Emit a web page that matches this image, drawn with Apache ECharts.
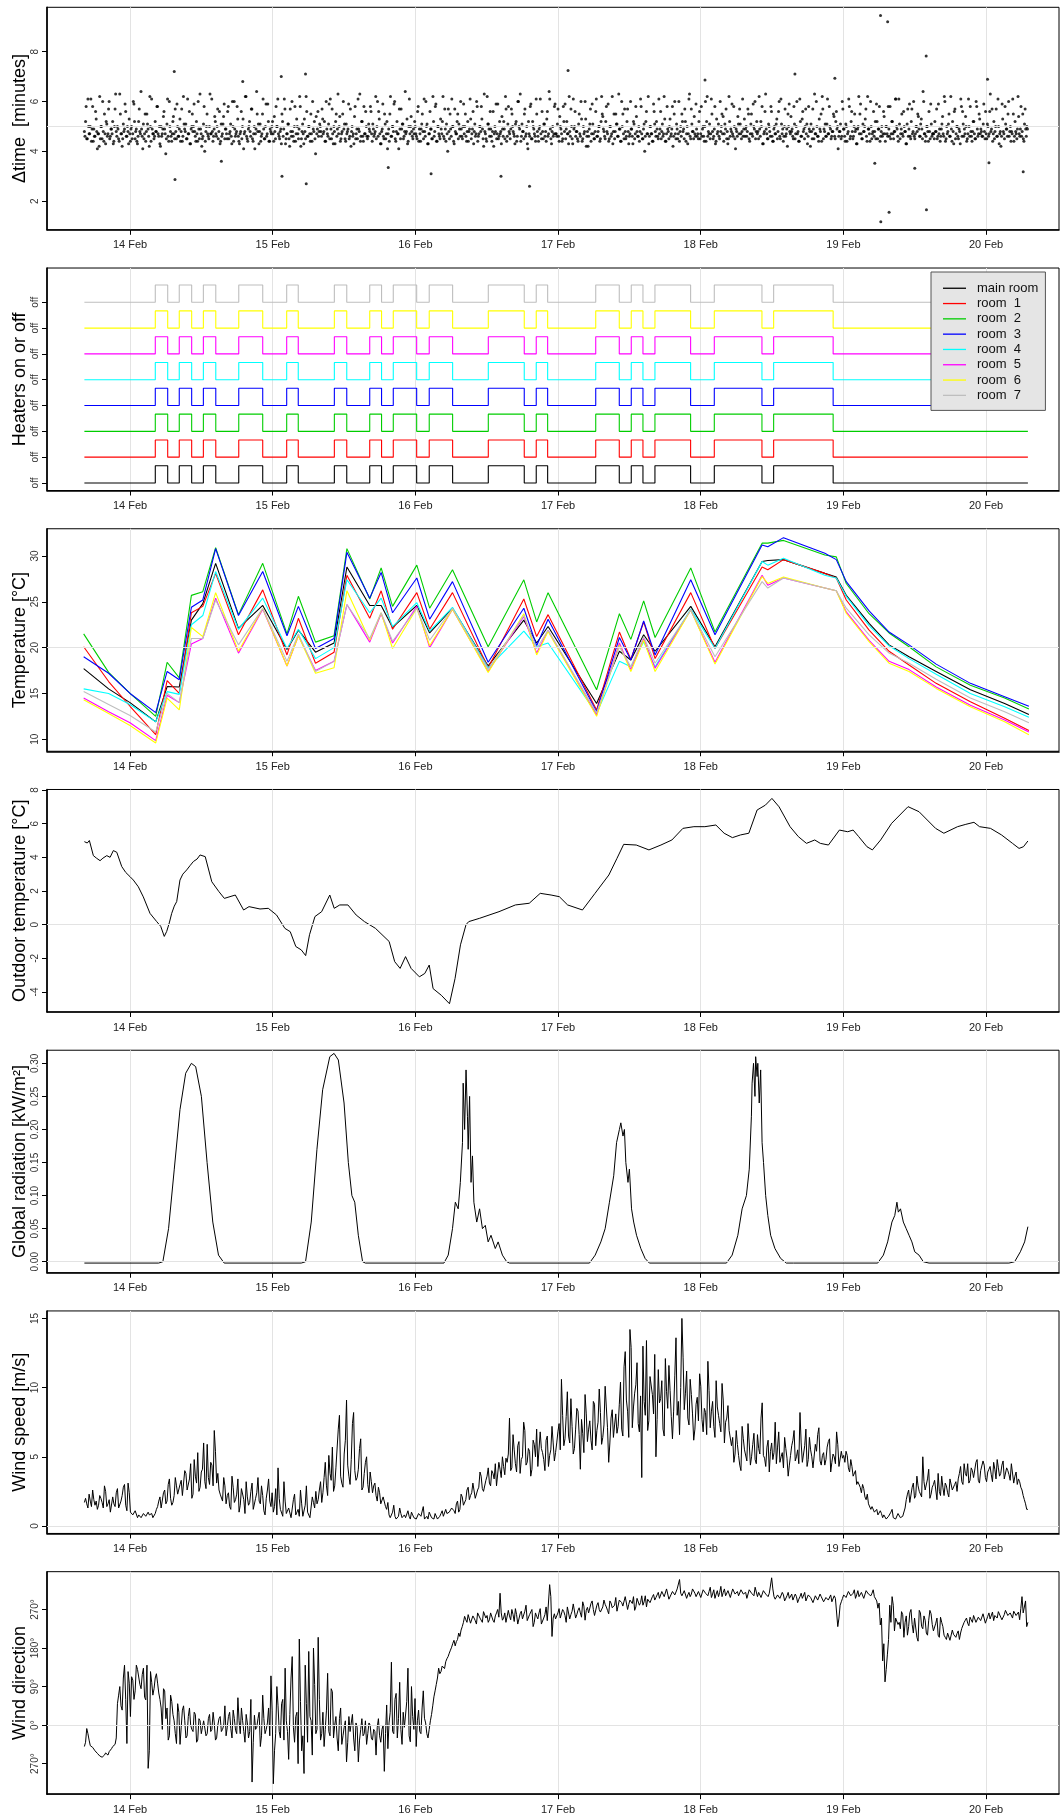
<!DOCTYPE html>
<html><head><meta charset="utf-8">
<script src="https://cdn.jsdelivr.net/npm/echarts@6/dist/echarts.min.js"></script>
<style>html,body{margin:0;padding:0;background:#fff}#c{width:1061px;height:1814px}</style>
</head><body><div id="c"></div>
<script>
// ---------------- DATA (time in days of February) ----------------
const dayTicks = [14, 15, 16, 17, 18, 19, 20];
const dayLabels = ['14 Feb', '15 Feb', '16 Feb', '17 Feb', '18 Feb', '19 Feb', '20 Feb'];
const roomNames = ['main room', 'room  1', 'room  2', 'room  3', 'room  4', 'room  5', 'room  6', 'room  7'];
const roomColors = ['#000000', '#ff0000', '#00cd00', '#0000ff', '#00ffff', '#ff00ff', '#ffff00', '#bebebe'];

// Panel 1: sampling interval (tenths of minutes); two interleaved passes of regular samples
const dtStart = 13.68, dtEnd = 20.29;
const dtCodesA = `
48 52 45 61 47 50 44 58 49 46 53 41 47 62 50 45 48 55 43 51 47 60 46 49 52 44 57 48 50 45 63 47 42 51 49 56 46 48 53 44
50 47 59 45 49 43 52 48 64 46 51 47 44 55 49 42 50 61 47 45 52 48 58 46 43 50 47 54 49 39 51 46 60 48 44 52 47 57 45 50
46 53 48 44 62 49 51 45 47 56 43 50 48 59 46 52 44 49 63 47 45 51 40 48 55 46 50 47 61 44 49 52 46 57 48 43 51 47 54 45
49 45 58 47 51 43 50 60 46 48 53 44 47 56 50 41 48 62 45 49 52 46 57 44 50 47 64 48 43 51 46 55 49 45 59 47 52 44 48 50
47 54 45 50 61 46 48 43 52 49 57 45 47 51 42 48 60 46 50 44 53 47 49 58 45 51 43 48 62 46 50 47 55 44 49 52 39 47 56 48
50 46 53 48 44 60 47 51 45 49 57 43 48 52 46 63 50 44 47 55 49 45 51 48 59 46 42 50 47 54 45 49 61 48 44 52 46 58 47 50
45 51 48 56 44 49 47 62 50 46 53 43 48 59 45 51 47 41 49 55 46 50 48 60 44 52 47 57 45 49 51 46 64 48 43 50 47 54 46 49
52 47 45 58 49 44 51 48 61 46 50 43 47 56 49 45 52 48 59 44 50 46 53 47 62 45 49 51 40 48 55 46 50 44 57 47 52 45 49 60
46 50 47 55 44 52 48 61 45 49 43 51 47 58 46 50 48 53 45 63 47 44 51 49 56 46 48 42 50 59 47 45 52 48 54 46 49 62 44 51
48 45 57 50 47 43 52 46 60 49 44 51 48 55 46 50 41 47 58 45 52 49 46 61 48 44 50 47 56 45 51 48 53 46 64 49 43 50 47 59
47 51 46 54 49 44 58 48 45 52 47 62 46 50 43 49 56 48 45 51 47 60 44 50 48 53 46 42 49 57 47 51 45 48 61 46 50 44 52 55
49 46 52 48 59 45 50 47 43 55 48 51 46 63 49 44 50 47 57 45 52 48 46 60 49 43 51 47 54 46 50 48 58 45 49 40 52 47 62 46
50 47 44 56 48 52 46 61 49 45 51 47 53 44 58 48 50 46 49 42 55 47 51 45 60 48 46 52 49 57 44 50 47 63 45 51 48 54 46 49
47 52 45 58 49 46 50 44 62 48 51 47 55 45 49 43 53 48 46 60 50 47 44 51 57 48 45 52 49 59 46 50 41 48 54 47 51 45 61 49
46 50 48 55 44 51 47 59 49 45 52 48 62 46 50 43 47 56 49 45 51 48 58 46 44 50 47 53 48 60 45 51 49 46 57 47 42 50 48 54
49 45 51 47 60 48 44 52 46 56 49 50 47 43 58 48 51 45 49 63 47 50 46 53 48 44 57 49 51 46 61 47 50 45 48 55 46 52 49 41
48 51 46 57 49 44 50 47 61 45 52 48 46 55 49 43 50 47 59 45 51 48 53 46 62 49 44 50 47 56 48 45 52 49 58 46 50 47 54 44
50 46 49 58 47 52 45 48 61 49 44 51 47 55 46 50 48 43 57 49 46 52 47 60 45 50 48 54 46 51 49 64 47 44 50 48 56 45 51 47
47 52 48 45 59 49 46 51 47 62 44 50 48 55 46 49 52 43 57 47 50 45 48 61 46 51 49 54 44 47 50 58 46 48 52 45 60 49 47 53
49 46 51 48 56 45 50 47 63 49 44 52 48 57 46 50 47 42 59 48 45 51 49 55 46 50 48 61 44 52 47 49 54 46 58 48 45 51 49 50`;
const dtCodesB = `
46 58 45 50 47 61 49 44 46 56 48 47 42 45 50 60 44 47 52 46 57 45 49 47 43 50 63 46 49 44 55 47 45 48 59 46 50 43 47 49
45 60 52 48 44 46 57 47 49 41 45 55 48 51 46 62 44 49 47 46 48 58 47 50 42 46 49 56 47 45 61 44 50 46 47 54 45 48 59 46
49 44 57 46 51 48 45 61 47 43 49 55 50 48 44 47 60 45 49 42 46 58 44 50 47 45 63 47 48 46 54 47 50 45 56 44 46 51 59 49
47 56 45 48 46 60 44 49 47 58 46 43 48 45 53 47 62 46 44 50 48 57 45 47 41 49 55 51 48 44 47 61 45 50 46 59 44 49 47 52
44 48 58 50 47 45 49 55 46 61 43 47 51 45 57 46 48 44 58 47 50 45 62 42 48 47 53 45 56 46 50 44 47 60 48 45 54 49 46 51
48 57 47 52 44 49 46 59 61 45 47 50 43 55 49 47 54 45 48 60 51 44 47 49 45 57 48 46 43 58 47 45 49 63 46 52 44 47 56 46
46 49 58 47 51 46 48 45 60 56 47 43 49 46 55 45 52 47 44 62 46 50 59 45 48 47 41 49 57 51 45 48 47 53 44 61 50 48 45 47
50 46 56 44 47 49 55 45 48 60 51 43 47 49 45 62 46 58 44 50 47 45 49 52 46 57 44 47 57 45 49 61 50 43 48 47 55 51 46 49
45 59 50 46 48 44 49 53 47 56 48 46 60 44 47 50 58 49 42 48 45 62 51 46 49 44 56 47 48 45 59 46 47 43 49 52 45 57 46 58
47 49 55 48 46 51 44 60 50 63 46 48 45 57 47 43 52 46 59 45 50 47 44 55 46 49 61 45 48 51 46 44 56 47 61 45 48 46 58 47
46 57 44 50 47 45 52 59 49 47 43 48 57 45 61 50 46 48 44 55 46 53 45 47 60 42 48 46 51 44 59 47 45 56 46 48 50 45 62 54
48 45 58 47 44 50 46 62 48 45 55 51 46 49 44 60 55 45 48 46 57 43 47 49 46 52 45 58 48 46 44 61 47 45 51 46 56 47 43 50
47 44 59 51 46 49 45 47 56 48 46 62 44 47 49 45 53 47 58 46 60 45 49 47 44 50 55 48 45 52 47 43 61 46 57 48 45 47 59 46
45 56 47 46 50 44 60 52 46 47 45 61 48 46 58 44 47 51 45 48 55 54 47 49 45 43 62 46 48 47 58 45 49 46 51 57 47 48 46 53
49 46 57 45 47 55 46 50 60 48 47 45 49 52 58 43 48 63 47 45 50 46 56 44 49 47 51 45 56 46 61 47 44 50 46 49 55 59 47 48
46 58 45 50 47 44 61 46 53 48 45 57 51 46 49 42 48 57 45 47 60 46 44 49 55 62 45 48 46 51 47 58 49 46 48 54 45 56 50 46
48 45 60 49 46 51 44 48 58 46 56 45 50 48 43 49 62 55 47 45 48 50 57 44 49 47 60 45 48 46 52 59 45 49 44 48 46 56 47 50
47 58 46 45 52 47 48 61 50 46 61 45 49 47 56 48 43 51 46 59 45 57 48 46 47 50 55 49 46 53 45 60 47 46 50 44 48 59 46 47
45 48 57 46 47 44 49 54 46 60 45 47 51 46 62 44 48 56 45 50 46 49 43 58 56 46 47 50 45 61 46 48 44 52 47 45 58 46 55 47
48 46 59 45 47 51 46 56 48 57 47 45 50 46 61 43 48 46 53 47 58 49 46 60 48 44 47 55 46 48 45 62 47 49 46 55 44 57 46 49`;
const dtOutT = [14.31, 14.315, 14.64, 14.79, 15.06, 15.065, 15.23, 15.235, 15.81, 16.11, 16.60, 16.80, 17.07, 18.03, 18.66, 18.94, 19.22, 19.26, 19.262, 19.31, 19.32, 19.50, 19.58, 19.582, 20.01, 20.02, 20.26];
const dtOutV = [7.2, 2.87, 3.6, 6.8, 7.0, 3.0, 7.1, 2.7, 3.35, 3.1, 3.0, 2.6, 7.24, 6.86, 7.1, 6.93, 3.52, 9.45, 1.17, 9.2, 1.55, 3.32, 7.83, 1.65, 6.89, 3.54, 3.18];

// Panel 2: heater switching times (alternating on / off, starting off)
const heaterStart = 13.68, heaterEnd = 20.293;
const heaterSwitch = [14.177, 14.264, 14.345, 14.432, 14.514, 14.601, 14.762, 14.930, 15.098, 15.179, 15.432, 15.519,
  15.680, 15.763, 15.845, 16.009, 16.097, 16.261, 16.511, 16.763, 16.847, 16.927, 17.264, 17.429, 17.513, 17.595,
  17.679, 17.929, 18.095, 18.429, 18.511, 18.928];
const heaterOffsets = [0, 1.5, 3, 4.5, 6, 7.5, 9, 10.5];

// Panel 3: room temperatures
const tempT = [13.675, 13.85, 14.0, 14.18, 14.26, 14.345, 14.43, 14.51, 14.60, 14.76, 14.93, 15.10, 15.18, 15.30, 15.43, 15.52,
  15.68, 15.76, 15.84, 16.01, 16.10, 16.26, 16.51, 16.76, 16.85, 16.93, 17.27, 17.43, 17.51, 17.60, 17.68, 17.93, 18.10,
  18.43, 18.47, 18.58, 18.87, 18.95, 19.02, 19.18, 19.32, 19.46, 19.65, 19.89, 20.13, 20.30];
const tempMain = [17.7, 15.5, 14.0, 11.9, 15.75, 15.7, 23.0, 24.8, 29.2, 22.1, 24.6, 19.8, 21.9, 19.5, 20.5, 28.8, 24.6, 24.6, 22.2, 24.6, 21.6, 24.3, 18.0, 23.0, 20.5, 22.3, 13.9, 19.6, 18.65, 21.4, 19.6, 24.5, 20.1, 29.4, 29.5, 29.6, 28.1, 27.7, 25.7, 22.65, 20.3, 19.0, 17.4, 15.4, 13.9, 12.7];
const tempRoom1 = [20.1, 16.3, 13.6, 10.5, 16.4, 15.0, 23.8, 24.5, 28.1, 21.4, 26.3, 19.2, 23.2, 18.3, 19.5, 27.9, 23.2, 26.2, 22.0, 26.0, 22.0, 26.0, 17.8, 25.3, 21.2, 23.6, 13.2, 21.7, 18.7, 22.8, 18.8, 26.0, 19.9, 28.8, 28.5, 29.6, 28.1, 27.6, 25.2, 21.9, 19.6, 18.1, 16.1, 14.1, 12.3, 10.95];
const tempRoom2 = [21.5, 17.3, 15.0, 12.5, 18.4, 16.7, 25.7, 26.1, 30.9, 23.6, 29.2, 21.5, 25.6, 20.6, 21.3, 30.8, 25.3, 28.7, 24.5, 29.0, 24.3, 28.5, 20.1, 27.4, 22.8, 26.0, 15.4, 23.7, 20.9, 25.1, 21.1, 28.7, 21.7, 31.4, 31.4, 31.7, 30.1, 29.9, 27.0, 23.7, 21.6, 20.1, 17.9, 15.9, 14.5, 13.3];
const tempRoom3 = [19.0, 17.2, 15.0, 12.9, 17.4, 16.5, 24.4, 25.2, 30.8, 23.5, 28.3, 21.3, 24.5, 19.9, 21.0, 30.4, 25.4, 28.2, 23.8, 27.6, 23.1, 27.2, 18.4, 24.3, 20.2, 23.1, 13.0, 21.1, 18.65, 22.9, 19.2, 27.4, 21.4, 31.2, 31.0, 32.0, 30.3, 29.6, 27.2, 24.0, 21.7, 20.3, 18.2, 16.1, 14.65, 13.6];
const tempRoom4 = [15.5, 15.0, 13.8, 11.9, 15.2, 14.9, 22.5, 23.5, 28.3, 22.0, 25.4, 19.9, 22.0, 18.8, 20.0, 27.4, 23.8, 25.4, 22.3, 24.9, 21.8, 24.4, 17.8, 21.8, 20.1, 20.5, 12.8, 18.5, 17.9, 20.65, 17.9, 24.2, 19.9, 29.4, 29.0, 29.75, 27.9, 27.6, 25.6, 22.4, 20.2, 18.8, 17.1, 15.0, 13.55, 12.4];
const tempRoom5 = [14.5, 13.0, 11.8, 9.85, 14.8, 14.0, 20.4, 21.0, 25.4, 19.4, 24.2, 18.0, 21.3, 17.5, 18.5, 24.7, 20.6, 23.7, 20.5, 24.5, 20.0, 24.2, 17.4, 23.4, 19.4, 21.9, 12.65, 20.5, 17.6, 21.0, 17.75, 24.1, 18.4, 27.9, 26.8, 27.6, 26.5, 26.2, 23.9, 20.8, 18.5, 17.6, 15.7, 13.7, 12.1, 10.8];
const tempRoom6 = [14.3, 12.8, 11.5, 9.6, 14.5, 13.2, 22.2, 21.2, 26.0, 19.6, 24.3, 18.0, 21.3, 17.2, 17.8, 26.2, 20.8, 23.8, 19.9, 24.3, 20.2, 24.2, 17.3, 23.7, 19.2, 21.75, 12.5, 20.3, 17.4, 20.8, 17.4, 24.1, 18.2, 27.75, 27.0, 27.7, 26.5, 26.2, 23.75, 20.65, 18.3, 17.4, 15.55, 13.55, 11.9, 10.5];
const tempRoom7 = [15.2, 13.8, 12.6, 10.8, 15.0, 14.0, 21.0, 21.0, 25.2, 20.3, 24.3, 18.5, 21.5, 17.4, 18.5, 24.7, 21.0, 23.8, 20.7, 24.3, 20.8, 24.3, 17.6, 23.5, 19.9, 21.9, 12.9, 20.1, 17.9, 21.2, 18.3, 24.1, 19.0, 27.2, 26.5, 27.6, 26.5, 26.2, 24.3, 21.4, 19.4, 18.3, 16.55, 14.5, 13.0, 11.8];
const roomTemps = [tempMain, tempRoom1, tempRoom2, tempRoom3, tempRoom4, tempRoom5, tempRoom6, tempRoom7];

// Panel 4: outdoor temperature
const outT = [13.680, 13.700, 13.715, 13.725, 13.743, 13.765, 13.790, 13.810, 13.837, 13.860, 13.883, 13.907, 13.942, 13.970,
  14.000, 14.023, 14.058, 14.093, 14.140, 14.187, 14.215, 14.240, 14.257, 14.275, 14.292, 14.310, 14.327, 14.350, 14.370,
  14.397, 14.420, 14.444, 14.470, 14.491, 14.527, 14.573, 14.623, 14.661, 14.738, 14.796, 14.834, 14.911, 14.969, 15.027,
  15.085, 15.123, 15.162, 15.200, 15.231, 15.258, 15.296, 15.343, 15.400, 15.431, 15.470, 15.527, 15.585, 15.643, 15.720,
  15.816, 15.855, 15.893, 15.931, 15.970, 16.028, 16.066, 16.097, 16.124, 16.182, 16.239, 16.278, 16.316, 16.355, 16.374,
  16.451, 16.586, 16.701, 16.798, 16.875, 16.951, 17.009, 17.067, 17.171, 17.259, 17.356, 17.413, 17.460, 17.548, 17.637,
  17.721, 17.798, 17.875, 17.952, 18.029, 18.106, 18.164, 18.222, 18.279, 18.337, 18.395, 18.453, 18.499, 18.549, 18.626,
  18.684, 18.741, 18.799, 18.838, 18.895, 18.972, 19.030, 19.068, 19.107, 19.165, 19.203, 19.261, 19.338, 19.453, 19.530,
  19.646, 19.704, 19.800, 19.858, 19.915, 19.954, 20.031, 20.108, 20.185, 20.231, 20.262, 20.293];
const outV = [4.93, 4.85, 5.0, 4.9, 4.1, 3.95, 3.8, 3.95, 4.1, 4.0, 4.4, 4.3, 3.45, 3.1,
  2.85, 2.65, 2.25, 1.65, 0.67, 0.18, -0.1, -0.7, -0.4, 0.1, 0.67, 1.1, 1.37, 2.65, 3.0,
  3.25, 3.5, 3.75, 3.9, 4.14, 4.04, 2.55, 1.96, 1.56, 1.76, 0.87, 1.07, 0.93, 0.97, 0.57,
  -0.22, -0.42, -1.3, -1.5, -1.84, -0.6, 0.48, 0.77, 1.76, 0.97, 1.17, 1.17, 0.57, 0.18, -0.22,
  -1.0, -2.2, -2.6, -1.9, -2.6, -3.1, -2.9, -2.4, -3.8, -4.2, -4.7, -3.2, -1.2, 0.0, 0.18,
  0.38, 0.77, 1.17, 1.27, 1.86, 1.76, 1.66, 1.17, 0.87, 1.86, 2.95, 3.94, 4.77, 4.73, 4.44,
  4.73, 5.03, 5.72, 5.82, 5.82, 5.92, 5.43, 5.17, 5.33, 5.43, 6.81, 7.1, 7.5, 7.0, 5.82,
  5.23, 4.83, 5.03, 4.83, 4.73, 5.62, 5.52, 5.62, 5.23, 4.63, 4.44, 5.03, 6.02, 7.01, 6.71,
  5.72, 5.43, 5.82, 5.96, 6.08, 5.82, 5.72, 5.33, 4.83, 4.53, 4.63, 4.97];

// Panel 5: global radiation
const radT = [13.68, 14.20, 14.23, 14.27, 14.31, 14.35, 14.39, 14.43, 14.46, 14.50, 14.54, 14.58, 14.62, 14.66,
  15.20, 15.23, 15.27, 15.31, 15.35, 15.40, 15.43, 15.46, 15.50, 15.53, 15.555, 15.575, 15.60, 15.63, 15.65,
  16.20, 16.23, 16.26, 16.28, 16.30, 16.315, 16.33, 16.335, 16.345, 16.355, 16.365, 16.37, 16.38, 16.39, 16.40, 16.41, 16.43, 16.45, 16.47, 16.49, 16.51, 16.53, 16.56, 16.58, 16.61, 16.64, 16.66,
  17.22, 17.26, 17.30, 17.33, 17.36, 17.39, 17.41, 17.43, 17.44, 17.455, 17.465, 17.475, 17.49, 17.50, 17.515, 17.53, 17.55, 17.58, 17.61, 17.64,
  18.18, 18.22, 18.26, 18.29, 18.32, 18.34, 18.355, 18.36, 18.37, 18.38, 18.385, 18.395, 18.40, 18.41, 18.42, 18.43, 18.44, 18.455, 18.47, 18.49, 18.52, 18.56, 18.60, 18.65,
  19.24, 19.28, 19.31, 19.34, 19.36, 19.375, 19.385, 19.40, 19.42, 19.44, 19.46, 19.48, 19.50, 19.53, 19.56, 19.60,
  20.16, 20.20, 20.24, 20.27, 20.293];
const radV = [-0.002, -0.002, 0.0, 0.05, 0.14, 0.23, 0.285, 0.30, 0.295, 0.25, 0.15, 0.06, 0.01, -0.002,
  -0.002, 0.0, 0.06, 0.17, 0.26, 0.31, 0.315, 0.305, 0.24, 0.15, 0.10, 0.09, 0.04, 0.0, -0.002,
  -0.002, 0.01, 0.05, 0.09, 0.08, 0.12, 0.18, 0.27, 0.20, 0.29, 0.22, 0.17, 0.25, 0.12, 0.16, 0.09, 0.06, 0.08, 0.05, 0.055, 0.03, 0.04, 0.02, 0.03, 0.01, 0.0, -0.002,
  -0.002, 0.01, 0.03, 0.05, 0.09, 0.13, 0.18, 0.20, 0.21, 0.19, 0.20, 0.15, 0.12, 0.14, 0.08, 0.06, 0.04, 0.02, 0.005, -0.002,
  -0.002, 0.01, 0.04, 0.08, 0.10, 0.14, 0.22, 0.27, 0.30, 0.25, 0.31, 0.28, 0.30, 0.24, 0.29, 0.18, 0.15, 0.10, 0.07, 0.04, 0.02, 0.005, -0.002, -0.002,
  -0.002, 0.01, 0.03, 0.06, 0.07, 0.09, 0.075, 0.08, 0.06, 0.05, 0.04, 0.03, 0.015, 0.01, 0.0, -0.002,
  -0.002, 0.0, 0.015, 0.03, 0.053];

// Panels 6 and 7: wind, two interleaved passes of regular samples from windStart to windEnd
const windStart = 13.68, windEnd = 20.293;
const windSpeedA = `
1.7 1.6 2.3 1.4 1.9 1.8 1.5 2.0 1.3 2.5 1.6 1.0 2.1 1.4 2.7 1.2 2.2 3.0 1.1 2.4
0.9 0.7 1.0 0.8 0.6 0.9 0.7 1.0 0.8 0.6 0.9
1.4 2.1 1.2 2.6 1.8 3.4 1.5 2.2 2.9
2.4 3.3 2.1 3.8 2.7 4.5 2.3 3.6 5.3 2.8 4.1 3.2 5.9 3.0 4.4 6.9 3.1 2.6
2.2 3.5 1.6 2.4 1.2 2.8 1.9 3.4 1.5 2.6 0.9 2.1 1.7 3.1 1.3 2.4 1.8 2.9 1.1 2.0 3.4 1.4
1.0 2.7 4.2 1.2 0.7 1.8 0.9 1.4 0.6 2.3 1.0 0.7 1.6 0.8 2.9 1.1 0.6 1.7 2.5
1.9 3.2 2.4 4.6 2.2 3.8 5.7 2.9 4.3 8.0 3.1 5.2 9.1 3.6 4.8 8.2 3.3 4.1 6.3 2.8 4.6 3.0 3.9 2.4
3.1 1.8 2.4 1.5 2.0 1.2
0.8 0.6 1.5 0.5 0.7 0.9 0.5 0.6 1.1 0.5 0.8 0.6 0.5 0.9 0.6 0.5 0.7 1.0 0.6 0.5 0.8 0.6 0.9 0.7 1.2 0.8 1.0
1.3 0.9 1.8 1.2 2.1 1.6 2.6 1.9 2.4 3.2 2.1 2.8 3.6 2.5 3.3 4.2 2.9 3.8 4.5 3.0 4.1 5.0 3.7
4.6 7.8 4.2 5.5 3.9 6.1 4.8 7.5 4.4 5.6 3.6 6.2 5.0 4.3 6.8 5.3 4.0 6.5 5.1 7.2 4.7
6.0 7.4 10.6 5.8 7.9 6.5 9.2 5.2 7.0 8.3 4.1 6.7 9.5 6.1 7.6 5.5 8.8 6.9 9.9 5.9 7.3 8.6 4.6 7.8 6.4 8.1
7.2 10.4 6.5 12.6 8.3 14.2 7.1 9.6 11.8 6.8 3.5 9.0 13.4 7.6 10.7 8.1 5.0 11.3 9.2 7.0 12.1 8.5 9.8 6.3 10.9 8.0 6.6 15.0
8.4 11.2 7.3 9.5 6.2 8.8 7.6 10.1 6.8 8.2 11.9 7.1 9.0 6.4 8.6 7.4 10.3 6.0 7.8 6.9
5.8 4.6 6.9 5.1 4.0 6.3 5.4 7.4 4.4 5.9 4.8 6.6 5.2 8.9 4.9 5.7 3.9 6.0 5.3 4.5 6.8 5.0 4.2 5.6 3.6 5.1 6.2 4.7 5.5 8.2 4.6 5.8 4.3 6.4 5.0 4.1 5.4 7.1 4.4 5.3 4.8 6.1 3.9 5.2 4.5 5.9 4.2 4.9
4.6 5.1 3.9 4.3 3.5 3.0 3.3 2.4 2.7 1.9 1.6 1.2 1.4 0.9 0.8 1.1
0.6 0.9 0.5 0.7 1.2 0.5 0.6 0.8 0.5 0.7
1.9 2.6 1.8 3.1 2.2 2.9 2.4 5.0 2.6 3.4 2.0 2.8 3.3 1.9 2.5 3.6 2.2 2.9 2.1 3.5 2.7 3.2
3.4 4.3 3.0 3.8 4.5 3.3 4.0 3.6 4.8 3.1 3.9 4.4 3.2 4.1 3.7 4.6 3.4 4.2 3.8 4.7 3.5 4.0 3.3 4.4 3.6 3.0 3.2 2.6 1.9 1.2`;
const windSpeedB = `
2.0 1.3 1.8 2.6 1.5 1.2 2.2 1.7 2.9 1.4 1.9 1.1 1.6 2.4 1.3 1.8 2.8 1.5 3.1 1.0
0.8 1.1 0.6 0.9 0.7 1.0 0.6 0.8 0.9 0.7 1.2
1.8 1.3 2.4 1.6 3.0 2.0 1.7 3.5 2.3
3.0 2.2 4.0 2.6 3.4 2.0 4.8 3.1 2.5 3.9 6.0 2.7 3.5 4.6 2.9 5.4 3.8 2.3
1.8 2.9 2.2 1.4 3.6 1.7 2.3 1.0 2.7 1.9 3.2 1.5 2.5 1.2 2.0 3.5 1.6 2.2 0.8 2.6 1.8 2.4
1.4 0.8 2.0 1.1 3.2 0.9 1.3 0.6 1.9 0.8 1.2 2.6 0.7 1.5 1.0 0.6 2.1 1.3 1.6
2.6 1.7 3.5 2.9 5.1 3.3 2.5 4.2 7.0 3.6 2.8 6.2 4.4 3.0 7.4 4.0 3.5 5.6 2.6 3.8 5.0 2.4 3.2 2.9
2.2 2.8 1.6 2.1 1.4 1.7
0.6 1.0 0.7 0.5 1.3 0.6 0.8 0.5 0.7 1.0 0.6 0.5 0.9 0.7 1.4 0.6 0.5 0.8 0.6 0.9 0.5 0.7 1.1 0.6 0.9 1.0 1.3
1.1 1.6 1.0 2.3 1.5 1.9 2.8 2.2 3.1 2.0 2.6 3.9 2.7 2.4 3.6 3.1 4.0 3.4 2.9 4.6 3.5 4.3 4.9
5.2 4.0 6.6 4.5 5.8 3.8 5.0 6.9 4.6 5.4 4.1 5.9 7.0 4.4 5.6 4.8 6.2 4.3 5.5 6.0 5.3
6.8 5.5 8.0 6.3 9.7 6.0 7.2 5.6 8.5 6.6 7.7 5.3 8.1 7.0 6.2 9.0 5.8 7.5 8.2 6.4 10.1 7.1 6.0 8.4 7.3 6.7
8.8 7.0 11.5 9.1 6.4 12.9 8.6 10.2 7.4 9.4 13.0 8.0 6.9 10.8 9.5 12.4 7.7 8.9 10.5 6.5 9.7 11.6 7.9 8.3 13.6 9.0 10.0 12.2
9.6 7.8 10.6 8.1 7.0 9.3 11.0 7.7 8.5 6.6 9.8 8.3 7.2 10.5 8.0 6.8 9.1 7.5 8.7 7.0
6.4 5.2 5.9 4.4 7.2 5.5 4.7 6.0 5.0 6.7 4.5 5.6 7.8 5.1 4.3 6.2 5.4 4.8 7.5 5.7 4.6 5.3 6.4 4.9 4.4 5.8 6.9 5.0 4.5 6.0 5.2 7.0 4.8 5.5 4.2 5.9 6.6 4.7 5.1 4.4 5.7 6.3 4.6 5.0 6.8 4.3 5.4 5.1
5.4 4.2 4.8 3.6 4.0 3.2 2.8 3.0 2.1 2.3 1.7 1.4 1.0 1.2 0.7 0.9
0.8 0.5 0.7 1.0 0.6 0.5 0.9 0.6 0.7 1.3
2.3 1.7 2.8 2.0 3.6 2.5 2.1 3.2 2.7 4.1 2.3 3.0 2.6 3.8 2.2 2.8 3.1 2.4 3.4 2.6 3.0 2.5
3.8 3.2 4.5 3.6 3.1 4.2 3.5 4.6 3.3 4.0 4.7 3.5 3.9 4.3 3.2 4.1 4.8 3.6 4.4 3.4 4.2 3.7 4.5 3.1 3.9 3.4 2.8 2.2 1.6 1.2`;
// wind direction in degrees; values below 0 are drawn below 0° (e.g. -90 = 270°)
const windDirA = `
-50 -8 -35 -45 -55 -62 -70 -68 -74 -65 -70 -58 -50 -45
50 90 35 140 -43 98 113 60 140 129 85 133 59 -101 125 70 110 98
60 -10 80 40 -25 55 10 -43 30 -5 45 -30 20 0 -15 25 -35 10
-5 10 -20 25 -10 5 -30 15 -15 0
-25 20 -8 35 -12 64 -20 10 -40 5
-15 -133 23 -5 30 -25 15 -10 40 115
-137 -20 45 -30 60 133 -15 25 160 -40
30 201 -60 -113 50 172 10 180 -20 205
-35 30 -10 121 -25 78 0 -30 15 -45
-5 -86 20 -15 -30 5 -86 -10 -25 10
-20 0 -35 -15 -5 -25 -10 -108 47 5
147 -20 74 15 -10 30 -5 133 -39 20
62 10 -15 40 16 -20
-10 25 66 95 133 125 140 148 160 175 191 185 200 207 230
254 240 262 242 250 236 258 248 265 250 240 262 245 255 270
308 245 262 238 255 270 242 258 235 266 250 280 240 256 230 262 248 272 236 258 244 328 207 260
255 272 248 265 240 278 258 283 250 268 262 288 245 275 266 290 256 280 270 262 292 276 260 285 272 298 266 288 278 300 270 292 284 268 296 280 302 288 276 298 290 305
298 310 292 306 300 315 296 312 304 318 340 302 314 296 310 306 320 300 312 298 316 308 302 322 306 296 314 310 300 318 304 312 298 320 308 302 316 306 310 296 314 304 322 300 312 306 318 302 308
344 300 292 308 296 304 288 310 298 292 306 286 300 296 310 290 302 294 284 306 296 300 288 298 292 304 290 296 230 280
296 306 300 312 298 316 304 300 310 296 314 306 302 316 298
273 234 150 101 164 280 300 220 250
240 265 205 255 230 270 215 250 196 262 225 245 210 268 235 220 250 205 240
210 200 218 195 212 205 220 215
230 245 238 252 240 248 236 255 246 258 242 262 250 244 258 265 252 248 268 256 262 250 270 258 246 300 265 230`;
const windDirB = `
-40 -20 -48 -52 -60 -66 -72 -75 -70 -68 -62 -55 -48 -30
70 45 110 60 125 20 105 80 130 95 118 65 140 -60 100 85 120 75
40 85 15 -35 70 25 -20 50 -45 35 10 -25 40 -10 30 -40 15 -20
10 -25 15 -15 30 -35 0 20 -10 45
-5 30 -30 15 -20 10 40 -15 25 -30
60 -40 -10 15 -50 70 -20 5 -25 35
-60 90 -15 50 -35 10 -80 110 -5 20
-90 55 -25 140 -40 20 -70 95 -10 60
-20 -50 35 -15 85 -30 20 -60 40 -25
10 -40 -15 25 -60 -5 -35 15 -20 -45
5 -30 -10 -70 15 -40 0 -20 -55 30
-15 60 -30 100 -45 -5 55 -25 90 -10
-50 35 -20 80 5 -30
10 45 80 110 120 138 132 155 168 182 198 195 215 222 240
246 258 238 255 244 262 250 240 268 256 246 258 240 262 252
262 250 240 268 246 258 272 236 260 248 266 244 258 270 240 254 262 236 250 276 242 300 250 248
262 250 270 256 276 248 266 280 258 274 252 278 268 262 284 270 258 286 264 276 282 268 290 274 280 266 292 286 274 296 282 290 300 276 294 286 280 302 294 286 300 292
304 296 312 300 318 294 306 314 300 322 308 298 316 304 300 318 308 296 314 302 320 304 312 298 316 306 300 324 310 302 314 298 318 306 312 300 320 304 296 316 308 302 318 310 298 314 306 300 312
318 294 304 296 310 290 302 296 306 288 300 294 308 296 290 304 298 286 302 292 306 296 290 300 294 288 302 298 250 288
304 298 312 302 308 296 314 300 306 298 312 302 308 300 290
285 250 190 130 200 240 280 250 235
225 258 240 210 262 235 250 205 268 230 255 215 245 260 220 238 210 252 230
205 215 198 222 208 214 200 226
240 250 232 246 256 240 252 244 260 238 254 248 264 256 250 262 246 258 270 252 260 266 256 264 272 262 290 240`;

// ---------------- BUILD ----------------
const parseList = s => s.trim().split(/\s+/).map(Number);
const interleave = (a, b) => { const out = []; for (let i = 0; i < Math.max(a.length, b.length); i++) { if (i < a.length) out.push(a[i]); if (i < b.length) out.push(b[i]); } return out; };
const dtValues = interleave(parseList(dtCodesA), parseList(dtCodesB)).map(v => v / 10);
const windSpeed = interleave(parseList(windSpeedA), parseList(windSpeedB));
const windDir = interleave(parseList(windDirA), parseList(windDirB));
const regular = (vals, t0, t1) => vals.map((v, i) => [t0 + i * (t1 - t0) / (vals.length - 1), v]);
const zip = (ts, vs) => ts.map((t, i) => [t, vs[i]]);

function heaterData(off) {
  const pts = [[heaterStart, off]];
  let on = 0;
  heaterSwitch.forEach(t => { pts.push([t, off + on]); on = 1 - on; pts.push([t, off + on]); });
  pts.push([heaterEnd, off + on]);
  return pts;
}

const FONT = 'Liberation Sans, Arial, Helvetica, sans-serif';
const X_MIN = 13.418, X_MAX = 20.511;
const TOP0 = 7.3, STEP = 260.73, H = 222.5;
const N = 7;

const grid = [], xAxis = [], yAxis = [];
const yDefs = [
  { min: 0.85, max: 9.78, ticks: [2, 4, 6, 8], labels: ['2', '4', '6', '8'], name: 'Δtime  [minutes]', hline: 5 },
  { min: -0.44, max: 12.49, ticks: heaterOffsets, labels: heaterOffsets.map(() => 'off'), name: 'Heaters on or off', hline: null },
  { min: 8.69, max: 32.97, ticks: [10, 15, 20, 25, 30], labels: ['10', '15', '20', '25', '30'], name: 'Temperature [°C]', hline: 20 },
  { min: -5.19, max: 8.03, ticks: [-4, -2, 0, 2, 4, 6, 8], labels: ['-4', '-2', '0', '2', '4', '6', '8'], name: 'Outdoor temperature [°C]', hline: 0 },
  { min: -0.0166, max: 0.3198, ticks: [0, 0.05, 0.1, 0.15, 0.2, 0.25, 0.3], labels: ['0.00', '0.05', '0.10', '0.15', '0.20', '0.25', '0.30'], name: 'Global radiation [kW/m²]', hline: 0 },
  { min: -0.54, max: 15.54, ticks: [0, 5, 10, 15], labels: ['0', '5', '10', '15'], name: 'Wind speed [m/s]', hline: 0 },
  { min: -161.3, max: 358.3, ticks: [-90, 0, 90, 180, 270], labels: ['270°', '0°', '90°', '180°', '270°'], name: 'Wind direction', hline: 0 }
];
const lookup = (ticks, labels) => v => { const k = ticks.findIndex(t => Math.abs(t - v) < 1e-7); return k < 0 ? '' : labels[k]; };

for (let i = 0; i < N; i++) {
  grid.push({ left: 47, right: 2, top: TOP0 + STEP * i, height: H, show: true, borderColor: '#000', borderWidth: 1,
    backgroundColor: 'transparent', outerBoundsMode: 'none' });
  xAxis.push({
    type: 'value', gridIndex: i, min: X_MIN, max: X_MAX, splitNumber: 7,
    axisLine: { show: true, onZero: false, lineStyle: { color: '#000', width: 1.6 } },
    axisTick: { show: true, length: 5, customValues: dayTicks, lineStyle: { color: '#000', width: 1 } },
    axisLabel: { show: true, customValues: dayTicks, formatter: lookup(dayTicks, dayLabels), fontSize: 11, color: '#222', margin: 10, fontFamily: FONT },
    splitLine: { show: true, lineStyle: { color: '#e3e3e3', width: 1 } }
  });
  const d = yDefs[i];
  yAxis.push({
    type: 'value', gridIndex: i, min: d.min, max: d.max,
    name: d.name, nameLocation: 'middle', nameGap: 18, nameRotate: 90, nameMoveOverlap: false,
    nameTextStyle: { fontSize: 18, color: '#000', fontFamily: FONT },
    axisLine: { show: true, onZero: false, lineStyle: { color: '#000', width: 1.6 } },
    axisTick: { show: true, length: 5, customValues: d.ticks, lineStyle: { color: '#000', width: 1 } },
    axisLabel: { show: true, customValues: d.ticks, formatter: lookup(d.ticks, d.labels), rotate: 90, fontSize: 10, color: '#333', margin: 7, fontFamily: FONT },
    splitLine: { show: false }
  });
}

const series = [];
// horizontal reference lines (drawn under the data)
yDefs.forEach((d, i) => {
  if (d.hline === null) return;
  series.push({
    type: 'line', data: [], xAxisIndex: i, yAxisIndex: i, z: 1, silent: true,
    markLine: { silent: true, symbol: ['none', 'none'], label: { show: false }, animation: false,
      lineStyle: { color: '#e3e3e3', width: 1, type: 'solid' }, data: [{ yAxis: d.hline }] }
  });
});
// Panel 1
series.push({ type: 'scatter', xAxisIndex: 0, yAxisIndex: 0, symbolSize: 3, itemStyle: { color: '#000' }, data: regular(dtValues, dtStart, dtEnd) });
series.push({ type: 'scatter', xAxisIndex: 0, yAxisIndex: 0, symbolSize: 3, itemStyle: { color: '#000' }, data: zip(dtOutT, dtOutV) });
// Panel 2
roomNames.forEach((nm, k) => series.push({
  type: 'line', name: nm, xAxisIndex: 1, yAxisIndex: 1, showSymbol: false, symbol: 'none',
  lineStyle: { color: roomColors[k], width: 1.1 }, itemStyle: { color: roomColors[k] }, data: heaterData(heaterOffsets[k])
}));
// Panel 3
roomNames.forEach((nm, k) => series.push({
  type: 'line', name: nm, xAxisIndex: 2, yAxisIndex: 2, showSymbol: false, symbol: 'none',
  lineStyle: { color: roomColors[k], width: 1.1 }, itemStyle: { color: roomColors[k] }, data: zip(tempT, roomTemps[k])
}));
// Panels 4-7
const blackLine = (i, data) => ({ type: 'line', xAxisIndex: i, yAxisIndex: i, showSymbol: false, symbol: 'none', lineStyle: { color: '#000', width: 1 }, data });
series.push(blackLine(3, zip(outT, outV)));
series.push(blackLine(4, zip(radT, radV)));
series.push(blackLine(5, regular(windSpeed, windStart, windEnd)));
series.push(blackLine(6, regular(windDir, windStart, windEnd)));

const option = {
  animation: false,
  backgroundColor: '#ffffff',
  textStyle: { fontFamily: FONT },
  grid, xAxis, yAxis, series,
  legend: {
    show: true, orient: 'vertical', left: 931, top: 272, data: roomNames, selectedMode: false,
    icon: 'rect', itemWidth: 23, itemHeight: 1.3, itemGap: 0,
    padding: [8.6, 7, 7.4, 12], backgroundColor: '#e5e5e5', borderColor: '#555', borderWidth: 1,
    textStyle: { fontSize: 13, color: '#111', lineHeight: 15.3, padding: [0, 0, 0, 6], fontFamily: FONT }
  }
};
const chart = echarts.init(document.getElementById('c'), null, { renderer: 'canvas' });
chart.setOption(option);
</script></body></html>
